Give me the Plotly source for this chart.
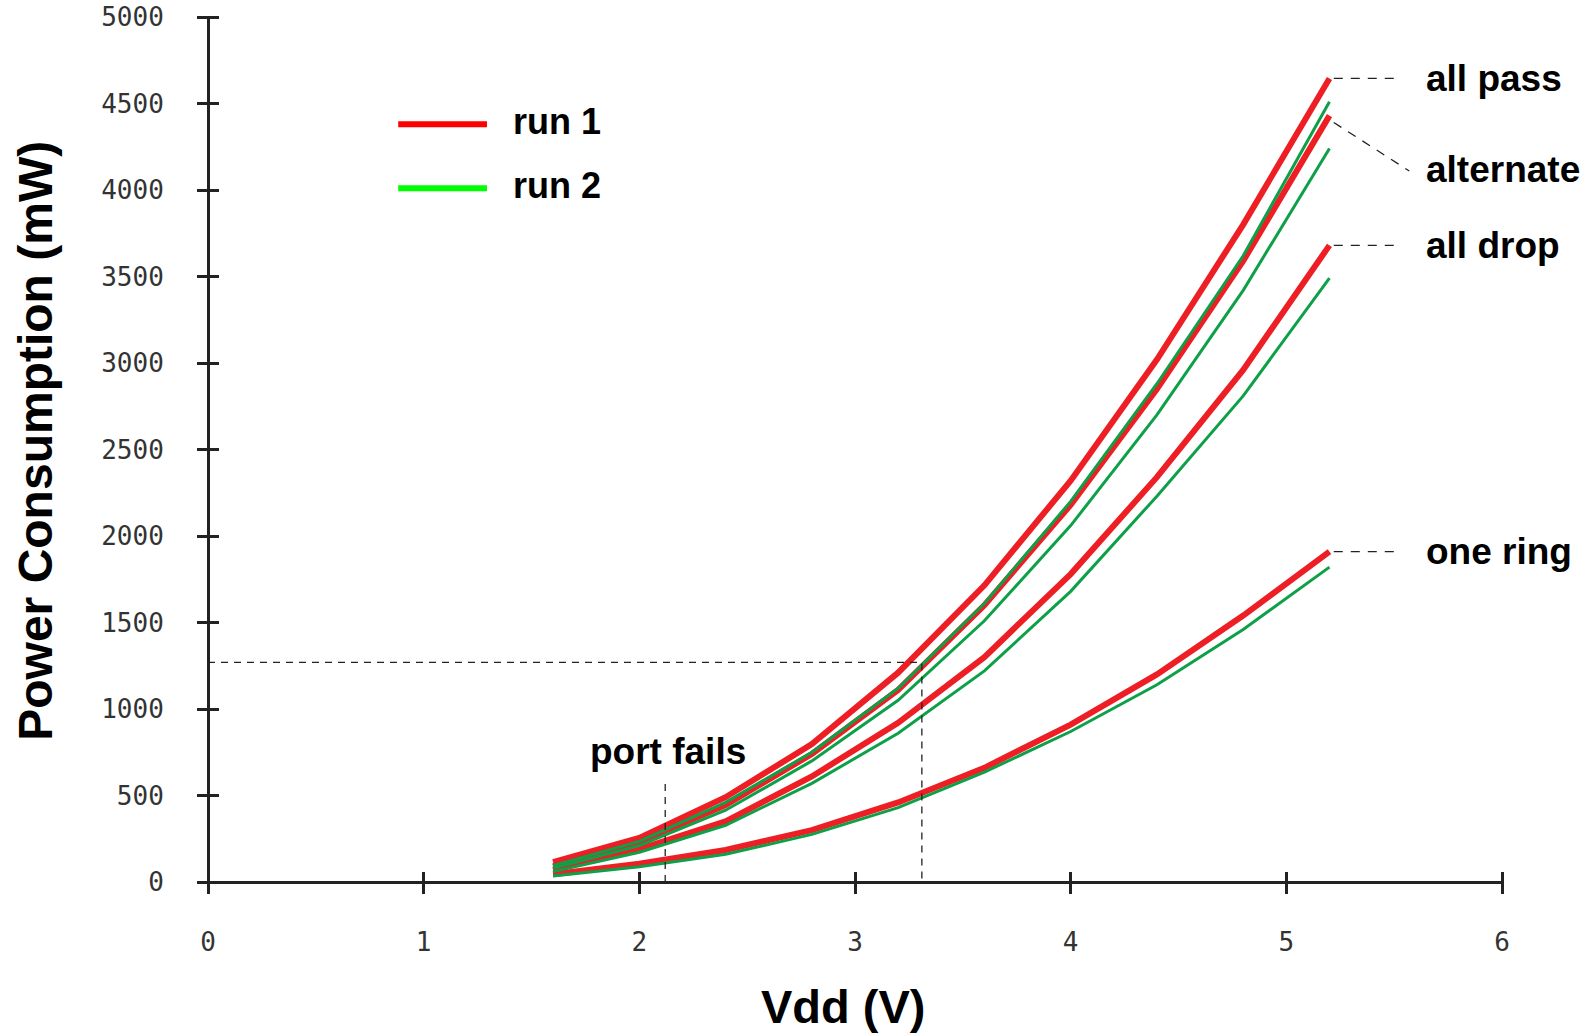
import plotly.graph_objects as go

# ---------------- data ----------------
vdd = [1.6, 2.0, 2.4, 2.8, 3.2, 3.6, 4.0, 4.4, 4.8, 5.2]

all_pass_run1 = [115, 255, 490, 797, 1210, 1715, 2320, 3020, 3800, 4645]
alternate_run1 = [90, 230, 445, 740, 1110, 1600, 2180, 2850, 3590, 4430]
all_drop_run1 = [70, 190, 350, 610, 920, 1300, 1780, 2340, 2960, 3680]
one_ring_run1 = [45, 105, 185, 300, 460, 660, 910, 1200, 1540, 1910]

all_pass_run2 = [95, 235, 460, 750, 1120, 1610, 2200, 2880, 3620, 4510]
alternate_run2 = [80, 210, 415, 700, 1050, 1510, 2060, 2700, 3420, 4240]
all_drop_run2 = [60, 172, 328, 570, 860, 1220, 1680, 2230, 2810, 3490]
one_ring_run2 = [35, 88, 160, 275, 430, 635, 870, 1140, 1460, 1820]

curve_labels = ["all pass", "alternate", "all drop", "one ring"]
legend_labels = ["run 1", "run 2"]

x_ticks = [0, 1, 2, 3, 4, 5, 6]
y_ticks = [0, 500, 1000, 1500, 2000, 2500, 3000, 3500, 4000, 4500, 5000]

# reference markers
op_vdd, op_power = 3.31, 1270       # operating point dashed lines
port_fail_vdd, port_fail_top = 2.12, 600

RED = "rgb(237,30,36)"
GREEN = "rgb(14,160,72)"
AXIS = "#222222"
TXT_FONT = "Liberation Sans, Arial, sans-serif"
TICK_FONT = "DejaVu Sans Mono, monospace"

W, H = 1587, 1036
ML, MR, MT, MB = 208, 85, 17, 154
HALF_TICK = 11  # ticks cross the axis line: half outside, half inside

fig = go.Figure()

run1 = [all_pass_run1, alternate_run1, all_drop_run1, one_ring_run1]
run2 = [all_pass_run2, alternate_run2, all_drop_run2, one_ring_run2]

for ys in run1:
    fig.add_trace(go.Scatter(x=vdd, y=ys, mode="lines",
                             line=dict(color=RED, width=6),
                             showlegend=False, hoverinfo="skip"))
for ys in run2:
    fig.add_trace(go.Scatter(x=vdd, y=ys, mode="lines",
                             line=dict(color=GREEN, width=3),
                             showlegend=False, hoverinfo="skip"))

dash_line = dict(color=AXIS, width=1.3, dash="7px,6px")
# operating point
fig.add_trace(go.Scatter(x=[0, op_vdd, op_vdd], y=[op_power, op_power, 0],
                         mode="lines", line=dash_line, showlegend=False, hoverinfo="skip"))
# port fails
fig.add_trace(go.Scatter(x=[port_fail_vdd, port_fail_vdd], y=[0, port_fail_top],
                         mode="lines", line=dash_line, showlegend=False, hoverinfo="skip"))

# leader lines to curve labels
leader = dict(color=AXIS, width=1.3, dash="9px,8px")
x_end = vdd[-1]
label_x = 5.64
leaders = [
    ([x_end + 0.02, 5.535], [all_pass_run1[-1], all_pass_run1[-1]]),
    ([x_end + 0.02, 5.57], [alternate_run1[-1] - 40, 4110]),
    ([x_end + 0.02, 5.535], [all_drop_run1[-1], all_drop_run1[-1]]),
    ([x_end + 0.02, 5.535], [one_ring_run1[-1], one_ring_run1[-1]]),
]
for lx, ly in leaders:
    fig.add_trace(go.Scatter(x=lx, y=ly, mode="lines", line=leader,
                             showlegend=False, hoverinfo="skip"))

label_y = [all_pass_run1[-1], 4120, all_drop_run1[-1], one_ring_run1[-1]]
for txt, yy in zip(curve_labels, label_y):
    fig.add_annotation(x=label_x, y=yy, text="<b>%s</b>" % txt, showarrow=False,
                       xanchor="left", yanchor="middle",
                       font=dict(family=TXT_FONT, size=37, color="black"))

fig.add_annotation(x=2.133, y=757, text="<b>port fails</b>", showarrow=False,
                   xanchor="center", yanchor="middle",
                   font=dict(family=TXT_FONT, size=37, color="black"))

# custom legend
leg_cols = ["#FF0000", "#00FF00"]
leg_y = [0.876, 0.802]
for lab, col, yy in zip(legend_labels, leg_cols, leg_y):
    fig.add_shape(type="line", xref="paper", yref="paper",
                  x0=0.147, x1=0.2156, y0=yy, y1=yy,
                  line=dict(color=col, width=6))
    fig.add_annotation(xref="paper", yref="paper", x=0.234, y=yy + 0.003,
                       text="<b>%s</b>" % lab, showarrow=False,
                       xanchor="left", yanchor="middle",
                       font=dict(family=TXT_FONT, size=36, color="black"))

# axis titles
fig.add_annotation(xref="paper", yref="paper", x=-0.133, y=0.51,
                   text="<b>Power Consumption (mW)</b>", textangle=-90,
                   showarrow=False, xanchor="center", yanchor="middle",
                   font=dict(family=TXT_FONT, size=48, color="black"))
fig.add_annotation(xref="x", yref="paper", x=2.944, y=-0.1445,
                   text="<b>Vdd (V)</b>", showarrow=False,
                   xanchor="center", yanchor="middle",
                   font=dict(family=TXT_FONT, size=47, color="black"))

tickfont = dict(family=TICK_FONT, size=26, color="#333333")
plot_w = W - ML - MR
plot_h = H - MT - MB

fig.update_layout(
    width=W, height=H,
    margin=dict(l=ML, r=MR, t=MT, b=MB),
    paper_bgcolor="white", plot_bgcolor="white",
    showlegend=False,
    xaxis=dict(range=[0, 6], tickvals=x_ticks, ticktext=[str(v) for v in x_ticks],
               anchor="free", position=HALF_TICK / plot_h,
               ticks="outside", ticklen=2 * HALF_TICK, tickwidth=2.5, tickcolor=AXIS,
               showline=False, automargin=False,
               showgrid=False, zeroline=True, zerolinecolor=AXIS, zerolinewidth=2.5,
               tickfont=tickfont, ticklabelstandoff=26),
    yaxis=dict(range=[0, 5000], tickvals=y_ticks, ticktext=[str(v) for v in y_ticks],
               anchor="free", position=HALF_TICK / plot_w,
               ticks="outside", ticklen=2 * HALF_TICK, tickwidth=2.5, tickcolor=AXIS,
               showline=False, automargin=False,
               showgrid=False, zeroline=True, zerolinecolor=AXIS, zerolinewidth=2.5,
               tickfont=tickfont, ticklabelstandoff=28),
)

fig.write_html("out.html")
